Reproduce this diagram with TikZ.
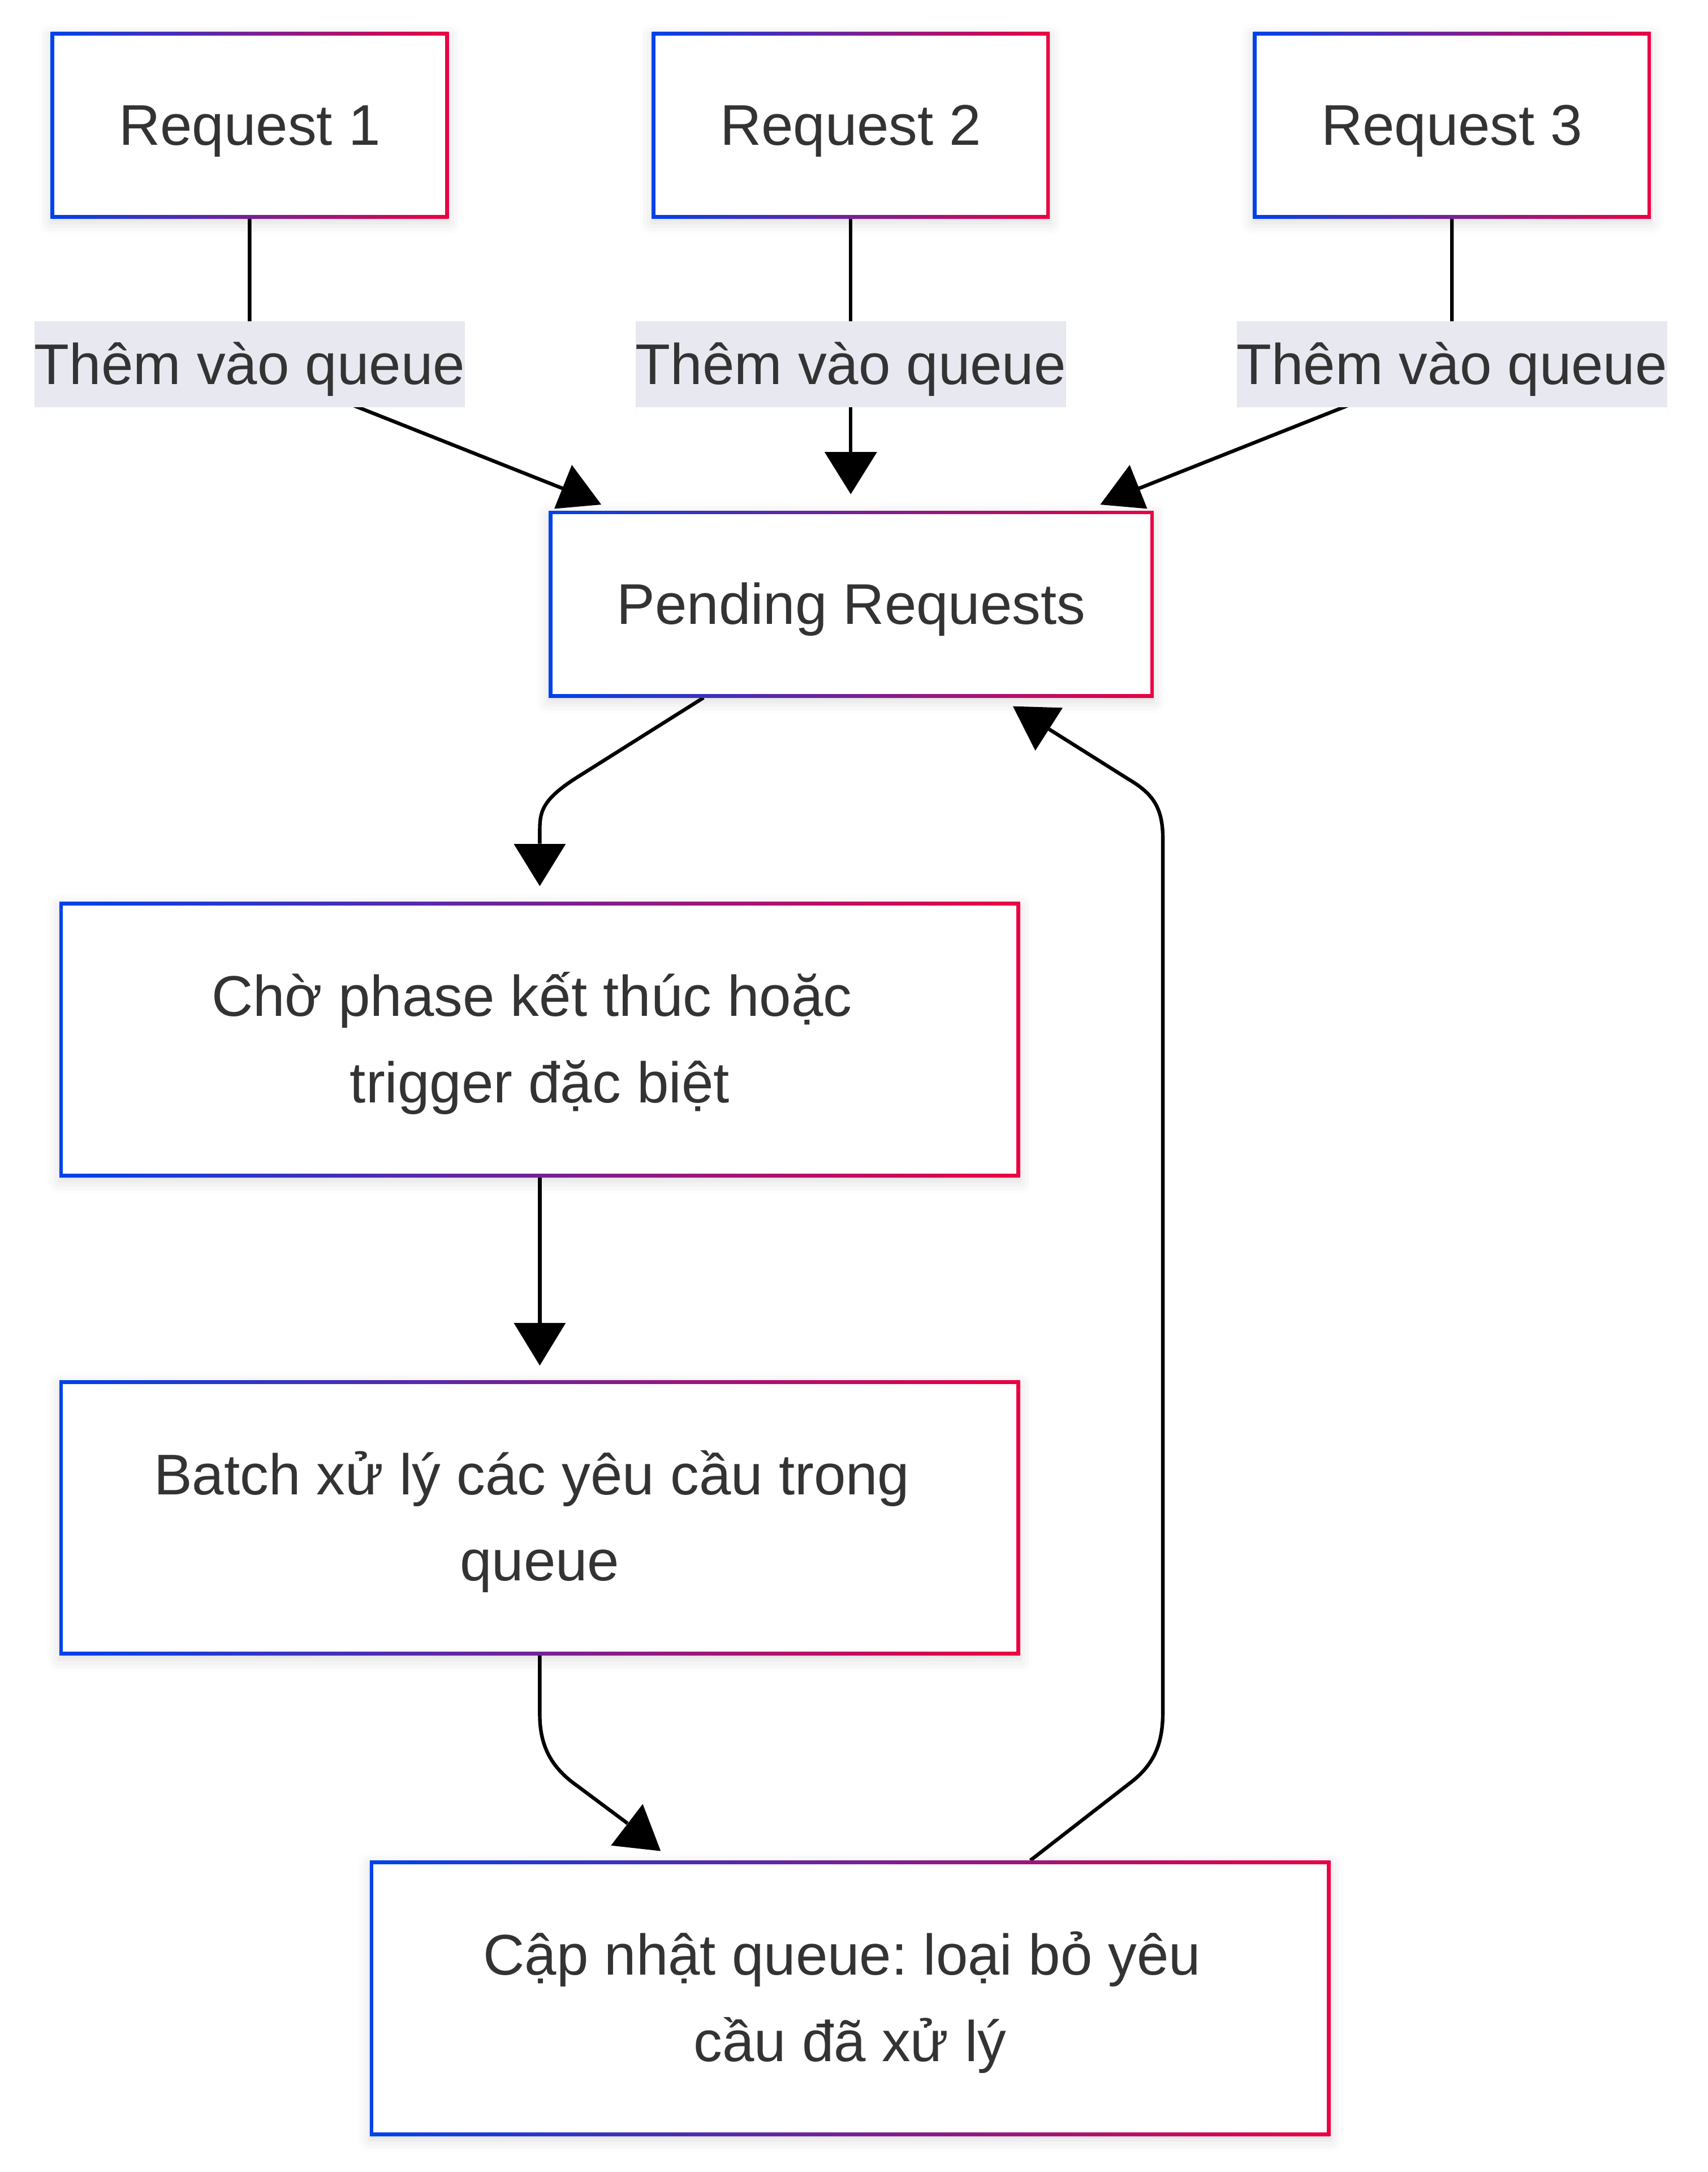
\documentclass[tikz,border=0pt]{standalone}
\usepackage{fontspec}
\setmainfont{Liberation Sans}
\frenchspacing
\usetikzlibrary{backgrounds,shadows.blur}
\definecolor{gradblue}{RGB}{0,66,235}
\definecolor{gradred}{RGB}{235,0,66}
\definecolor{labelbg}{RGB}{232,232,240}
\definecolor{txtgray}{RGB}{51,51,51}
\newcommand\lnstrut{\rule[-0.404em]{0pt}{1.5em}}
\newcommand\tailsp{\hspace*{0.278em}}
\tikzset{
  flowbox/.style={rectangle, inner sep=0pt, fill=white, text=txtgray, align=center,
    font=\fontsize{41.5pt}{62.25pt}\selectfont,
    blur shadow={shadow xshift=0pt, shadow yshift=-3pt, shadow blur radius=9pt, shadow opacity=14},
    path picture={
      \shade[left color=gradblue, right color=gradred] (path picture bounding box.south west) rectangle (path picture bounding box.north east);
      \fill[white] ([shift={(2.6pt,2.6pt)}]path picture bounding box.south west) rectangle ([shift={(-2.6pt,-2.6pt)}]path picture bounding box.north east);
    }},
  smallbox/.style={flowbox, minimum width=288pt, minimum height=135pt},
  bigbox/.style={flowbox, minimum width=695pt, minimum height=199pt},
  edgelab/.style={fill=labelbg, inner sep=0pt, text=txtgray, font=\fontsize{41.5pt}{62.25pt}\selectfont},
  link/.style={line width=2.6pt, black}
}
\begin{document}
\begin{tikzpicture}[x=1pt, y=-1pt]
\useasboundingbox (0,0) rectangle (1235.3,1571.2);
% requests
\node[smallbox] (r1) at (180.6,90.5) {\lnstrut Request 1};
\node[smallbox] (r2) at (615.5,90.5) {\lnstrut Request 2};
\node[smallbox] (r3) at (1050.4,90.5) {\lnstrut Request 3};
\node[edgelab] (l1) at (180.6,263.5) {\lnstrut Thêm vào queue};
\node[edgelab] (l2) at (615.5,263.5) {\lnstrut Thêm vào queue};
\node[edgelab] (l3) at (1050.4,263.5) {\lnstrut Thêm vào queue};
% queue and steps
\node[flowbox, minimum width=437.7pt, minimum height=135pt] (pend) at (615.8,437) {\lnstrut Pending Requests};
\node[bigbox] (cho) at (390.5,752) {\lnstrut Chờ phase kết thúc hoặc\tailsp\\\lnstrut trigger đặc biệt};
\node[bigbox] (batch) at (390.5,1098) {\lnstrut Batch xử lý các yêu cầu trong\tailsp\\\lnstrut queue};
\node[bigbox] (upd) at (615,1445.5) {\lnstrut Cập nhật queue: loại bỏ yêu\tailsp\\\lnstrut cầu đã xử lý};
% connector ends
\coordinate (e1) at (407.5,353.5);
\coordinate (e2) at (615.5,327);
\coordinate (e3) at (823.5,353.5);
\coordinate (e4) at ([yshift=42pt]cho.north);
\coordinate (e6) at (454,1319);
\coordinate (e7) at (759,527.5);
\begin{scope}[on background layer]
\draw[link] (r1.south) -- (l1.center) -- (e1);
\draw[link] (r2.south) -- (e2);
\draw[link] (r3.south) -- (l3.center) -- (e3);
\draw[link] ([xshift=-106.8pt]pend.south) -- (418,562) .. controls (391,579) and (390.5,588) .. (390.5,602) -- (e4);
\draw[link] (cho.south) -- ([yshift=41pt]batch.north);
\draw[link] (batch.south) -- (390.5,1240) .. controls (390.5,1262) and (398,1278) .. (417.4,1291.7) -- (e6);
\draw[link] ([xshift=130.4pt]upd.north) -- (817,1290.2) .. controls (836,1276) and (841.3,1260) .. (841.3,1238) -- (841.3,607) .. controls (841.3,584) and (834,574) .. (816,563.4) -- (e7);
\end{scope}
% heads
\fill (413.7,336.3) -- (401,368) -- (435,365) -- cycle;
\fill (615.5,357.5) -- (596.5,327) -- (634.5,327) -- cycle;
\fill (817.3,336.3) -- (830,368) -- (796,365) -- cycle;
\fill (390.5,641) -- (371.7,610.5) -- (409.3,610.5) -- cycle;
\fill (390.5,987.8) -- (371.7,957) -- (409.3,957) -- cycle;
\fill (749,543) -- (732.8,510.9) -- (768.8,512) -- cycle;
\fill (465,1305) -- (442,1335) -- (478,1339) -- cycle;
\end{tikzpicture}
\end{document}
